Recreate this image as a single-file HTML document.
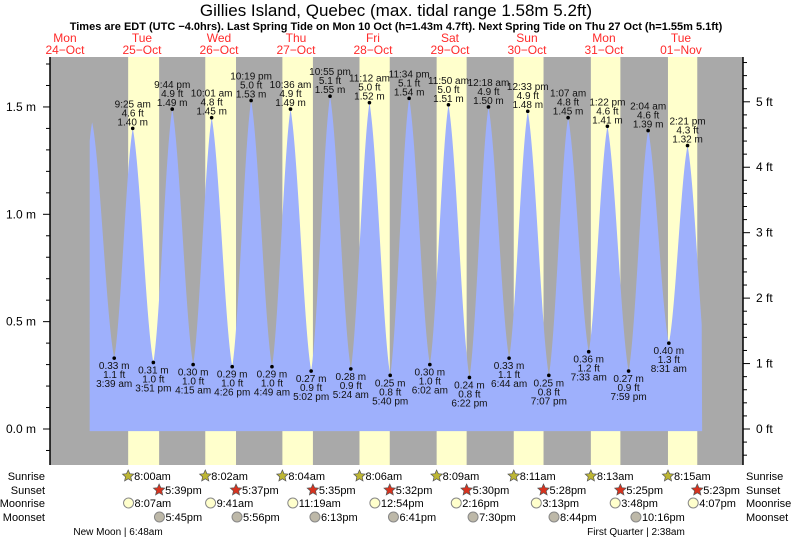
<!DOCTYPE html>
<html><head><meta charset="utf-8"><style>
body{margin:0;background:#fff;}
svg{display:block;font-family:"Liberation Sans",sans-serif;}
</style></head><body>
<svg id="c" width="793" height="539" viewBox="0 0 793 539">
<text x="396" y="16" text-anchor="middle" font-size="17">Gillies Island, Quebec (max. tidal range 1.58m 5.2ft)</text>
<text x="396" y="30" text-anchor="middle" font-size="11" font-weight="bold">Times are EDT (UTC −4.0hrs). Last Spring Tide on Mon 10 Oct (h=1.43m 4.7ft). Next Spring Tide on Thu 27 Oct (h=1.55m 5.1ft)</text>
<g id="bands"></g><g id="tide"></g><g id="labels"></g><g id="axes"></g><g id="days"></g><g id="astro"></g>
</svg>
<script>
const dayNames=["Mon","Tue","Wed","Thu","Fri","Sat","Sun","Mon","Tue"];
const dayDates=["24\u2212Oct","25\u2212Oct","26\u2212Oct","27\u2212Oct","28\u2212Oct","29\u2212Oct","30\u2212Oct","31\u2212Oct","01\u2212Nov"];
// hours since 25 Oct 00:00
const tideHours=[-9.2,-3.25,3.65,9.42,15.85,21.73,28.25,34.02,40.43,46.32,52.82,58.6,65.03,70.92,77.4,83.2,89.67,95.57,102.03,107.83,114.37,120.3,126.73,132.55,139.12,145.12,151.55,157.37,163.98,170.07,176.52,182.35,188.7];
const tideHeights=[0.3,1.43,0.33,1.40,0.31,1.49,0.30,1.45,0.29,1.53,0.29,1.49,0.27,1.55,0.28,1.52,0.25,1.54,0.30,1.51,0.24,1.50,0.33,1.48,0.25,1.45,0.36,1.41,0.27,1.39,0.40,1.32,0.2];
const tideTimes=["","","3:39 am","9:25 am","3:51 pm","9:44 pm","4:15 am","10:01 am","4:26 pm","10:19 pm","4:49 am","10:36 am","5:02 pm","10:55 pm","5:24 am","11:12 am","5:40 pm","11:34 pm","6:02 am","11:50 am","6:22 pm","12:18 am","6:44 am","12:33 pm","7:07 pm","1:07 am","7:33 am","1:22 pm","7:59 pm","2:04 am","8:31 am","2:21 pm",""];
const tideFt=["","","1.1","4.6","1.0","4.9","1.0","4.8","1.0","5.0","1.0","4.9","0.9","5.1","0.9","5.0","0.8","5.1","1.0","5.0","0.8","4.9","1.1","4.9","0.8","4.8","1.2","4.6","0.9","4.6","1.3","4.3",""];
const sunrise=["8:00am","8:02am","8:04am","8:06am","8:09am","8:11am","8:13am","8:15am"];
const sunset=["5:39pm","5:37pm","5:35pm","5:32pm","5:30pm","5:28pm","5:25pm","5:23pm"];
const moonrise=["8:07am","9:41am","11:19am","12:54pm","2:16pm","3:13pm","3:48pm","4:07pm"];
const moonset=["5:45pm","5:56pm","6:13pm","6:41pm","7:30pm","8:44pm","10:16pm",""];
const leftTicks=["0.0 m","0.5 m","1.0 m","1.5 m"];
const rightTicks=["0 ft","1 ft","2 ft","3 ft","4 ft","5 ft"];

const NS="http://www.w3.org/2000/svg";
const X0=50,X1=743,Y0=57,Y1=465;
function x(h){return 102.5+h*77/24;}
function y(m){return 429-m*214.7;}
function hrs(s){const m=s.match(/(\d+):(\d+)(am|pm)/);let H=+m[1]%12;if(m[3]=="pm")H+=12;return H+ +m[2]/60;}
function el(tag,attrs,parent,txt){const e=document.createElementNS(NS,tag);for(const k in attrs)e.setAttribute(k,attrs[k]);if(txt!==undefined)e.textContent=txt;parent.appendChild(e);return e;}
const bands=document.getElementById('bands');
let r=el('rect',{x:X0,y:Y0,width:X1-X0,height:Y1-Y0,fill:'#a9a9a9'},bands);


for(let d=0;d<8;d++){
  const a=x(d*24+hrs(sunrise[d])),b=x(d*24+hrs(sunset[d]));
  r=el('rect',{x:a,y:Y0,width:b-a,height:Y1-Y0,fill:'#ffffcc'},bands);
  
  
}
function tideAt(h){
  for(let i=0;i<tideHours.length-1;i++){
    if(h>=tideHours[i]&&h<=tideHours[i+1]){
      const f=(h-tideHours[i])/(tideHours[i+1]-tideHours[i]);
      const a=tideHeights[i],b=tideHeights[i+1];
      const sm=0.5-0.5*Math.cos(Math.PI*f);
      const ss=0.55*sm+0.45*f;
      return a+(b-a)*ss;
    }
  }
  return 0;
}
const hs=-4.0,he=186.9;
let d="M"+x(hs)+","+y(-0.01);
for(let px=x(hs);px<=x(he);px+=0.5){const h=(px-102.5)*24/77;d+=" L"+px.toFixed(1)+","+y(tideAt(h)).toFixed(1);}
d+=" L"+x(he)+","+y(-0.01)+" Z";
const tp=el('path',{d:d,fill:'#9eb0fc'},document.getElementById('tide'));


const lg=document.getElementById('labels');
for(let i=0;i<tideHours.length;i++){
  if(!tideTimes[i])continue;
  const px=x(tideHours[i]),py=y(tideHeights[i]);
  const high=tideHeights[i]>0.8;
  const g=el('g',{'font-size':10,'text-anchor':'middle',fill:'#111'},lg);
  
  
  el('circle',{cx:px,cy:py,r:1.8,fill:'#000'},g);
  const mt=tideHeights[i].toFixed(2)+" m",ft=tideFt[i]+" ft";
  if(high){el('text',{x:px,y:py-3},g,mt);el('text',{x:px,y:py-12},g,ft);el('text',{x:px,y:py-21},g,tideTimes[i]);}
  else{el('text',{x:px,y:py+11},g,mt);el('text',{x:px,y:py+20},g,ft);el('text',{x:px,y:py+29},g,tideTimes[i]);}
}
const ax=document.getElementById('axes');
let l=el('line',{x1:X0,y1:Y0,x2:X0,y2:Y1,stroke:'#000','stroke-width':1.5},ax);


l=el('line',{x1:X1,y1:Y0,x2:X1,y2:Y1,stroke:'#000','stroke-width':1.5},ax);


for(let k=-1;k<=17;k++){const py=y(k/10);if(py<Y0||py>Y1)continue;const mj=k%5==0;el('line',{x1:X0-(mj?7:4),y1:py,x2:X0,y2:py,stroke:'#000'},ax);}
leftTicks.forEach((t,i)=>{const e=el('text',{x:36,y:y(i*0.5)+4,'font-size':12,'text-anchor':'end'},ax,t);});
for(let k=-2;k<=28;k++){const py=y(k*0.2*0.3048);if(py<Y0||py>Y1)continue;const mj=k%5==0;el('line',{x1:X1,y1:py,x2:X1+(mj?7:4),y2:py,stroke:'#000'},ax);}
rightTicks.forEach((t,i)=>{const e=el('text',{x:756,y:y(i*0.3048)+4,'font-size':12},ax,t);});
const dg=document.getElementById('days');
dayNames.forEach((n,i)=>{const px=x((i-1)*24+12.3);const g=el('g',{'font-size':12,fill:'#ff2a2a','text-anchor':'middle'},dg);


el('text',{x:px,y:42},g,n);el('text',{x:px,y:54},g,dayDates[i]);});
const as=document.getElementById('astro');
function star(cx,cy,fill){let p="";for(let k=0;k<10;k++){const rr=k%2?2.8:6;const a=-Math.PI/2+k*Math.PI/5;p+=(cx+rr*Math.cos(a)).toFixed(1)+","+(cy+rr*Math.sin(a)).toFixed(1)+" ";}return el('polygon',{points:p,fill:fill,stroke:'#555','stroke-width':0.7},as);}
const rows=[["Sunrise",476],["Sunset",490],["Moonrise",503],["Moonset",517]];
rows.forEach(rw=>{let t=el('text',{x:45,y:rw[1]+4,'font-size':11,'text-anchor':'end'},as,rw[0]);
t=el('text',{x:746,y:rw[1]+4,'font-size':11},as,rw[0]);});
function item(arr,row,kind){arr.forEach((s,dd)=>{if(!s)return;const px=x(dd*24+hrs(s)),py=rows[row][1];
 let ic;if(kind==0)ic=star(px,py,'#bdb634');else if(kind==1)ic=star(px,py,'#d8321e');else ic=el('circle',{cx:px,cy:py,r:5,fill:kind==2?'#ffffcc':'#bdb8a8',stroke:'#888'},as);
 
 
 const t=el('text',{x:px+6,y:py+4,'font-size':11},as,s);
 
 });}
item(sunrise,0,0);item(sunset,1,1);item(moonrise,2,2);item(moonset,3,3);
let t=el('text',{x:118,y:535,'font-size':10,'text-anchor':'middle'},as,"New Moon | 6:48am");


t=el('text',{x:636,y:535,'font-size':10,'text-anchor':'middle'},as,"First Quarter | 2:38am");


</script>
</body></html>
